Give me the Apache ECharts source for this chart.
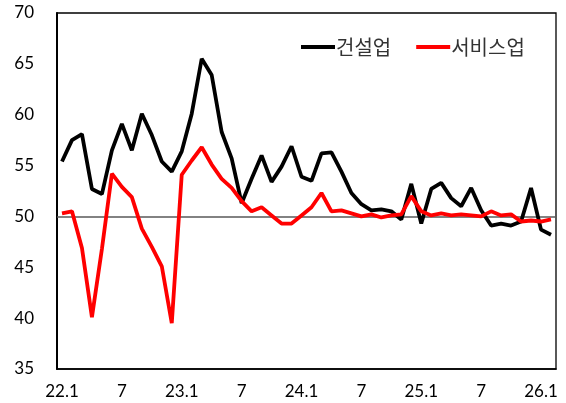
<!DOCTYPE html>
<html>
<head>
<meta charset="utf-8">
<script src="https://cdn.jsdelivr.net/npm/echarts@6/dist/echarts.min.js"></script>
<style>
html,body{margin:0;padding:0;background:#fff;}
#chart{width:566px;height:403px;}
</style>
</head>
<body>
<div id="chart"></div>
<script>
const categories = [
  "22.1","2","3","4","5","6","7","8","9","10","11","12",
  "23.1","2","3","4","5","6","7","8","9","10","11","12",
  "24.1","2","3","4","5","6","7","8","9","10","11","12",
  "25.1","2","3","4","5","6","7","8","9","10","11","12",
  "26.1","2"
];
const construction = [
  55.4,57.5,58.1,52.7,52.2,56.5,59.1,56.5,60.1,58.0,55.4,54.4,
  56.4,60.1,65.5,63.9,58.3,55.7,51.3,53.7,56.0,53.4,54.9,56.9,
  53.9,53.5,56.2,56.3,54.4,52.3,51.2,50.6,50.7,50.5,49.7,53.2,
  49.3,52.7,53.3,51.8,51.0,52.8,50.6,49.1,49.3,49.1,49.5,52.8,
  48.7,48.2
];
const services = [
  50.3,50.5,46.9,40.1,46.8,54.2,52.9,51.9,48.8,47.0,45.1,39.5,
  54.1,55.5,56.8,55.1,53.7,52.8,51.5,50.5,50.9,50.1,49.3,49.3,
  50.1,50.9,52.3,50.5,50.6,50.3,50.0,50.2,49.9,50.1,50.2,52.0,
  50.5,50.1,50.3,50.1,50.2,50.1,50.0,50.5,50.1,50.2,49.5,49.6,
  49.5,49.7
];
const seriesNames = ["건설업","서비스업"];
const yTicks = {min:35, max:70, interval:5};
const refLine = 50;

const chart = echarts.init(document.getElementById('chart'));
const labelFont = 'Lato, "Liberation Sans", sans-serif';
chart.setOption({
  animation:false,
  backgroundColor:'#fff',
  grid:{left:57,right:10,top:13,bottom:34,show:true,borderColor:'#000',borderWidth:1.3,backgroundColor:'transparent'},
  legend:{
    data:seriesNames,
    icon:'rect',
    left:296, top:32,
    itemWidth:34, itemHeight:4, itemGap:25,
    textStyle:{fontSize:20,color:'#333',fontFamily:'"Noto Sans CJK KR", sans-serif',padding:[0,0,0,-4]}
  },
  xAxis:{
    type:'category', data:categories, boundaryGap:true,
    axisLine:{show:true,lineStyle:{color:'#000',width:1.5}},
    axisTick:{show:false},
    axisLabel:{interval:5,fontSize:17,color:'#000',fontFamily:labelFont,margin:14}
  },
  yAxis:{
    type:'value', min:yTicks.min, max:yTicks.max, interval:yTicks.interval,
    axisLine:{show:true,lineStyle:{color:'#000',width:2}},
    axisTick:{show:false},
    splitLine:{show:false},
    axisLabel:{fontSize:17,color:'#000',fontFamily:labelFont,margin:23}
  },
  series:[
    {name:seriesNames[0],type:'line',data:construction,symbol:'none',
     lineStyle:{color:'#000',width:3.8},itemStyle:{color:'#000'},z:3,
     markLine:{silent:true,symbol:'none',label:{show:false},
       lineStyle:{color:'#595959',width:1.5,type:'solid'},data:[{yAxis:refLine}],z:1}},
    {name:seriesNames[1],type:'line',data:services,symbol:'none',
     lineStyle:{color:'#ff0000',width:3.8},itemStyle:{color:'#ff0000'},z:4}
  ]
});
</script>
</body>
</html>
